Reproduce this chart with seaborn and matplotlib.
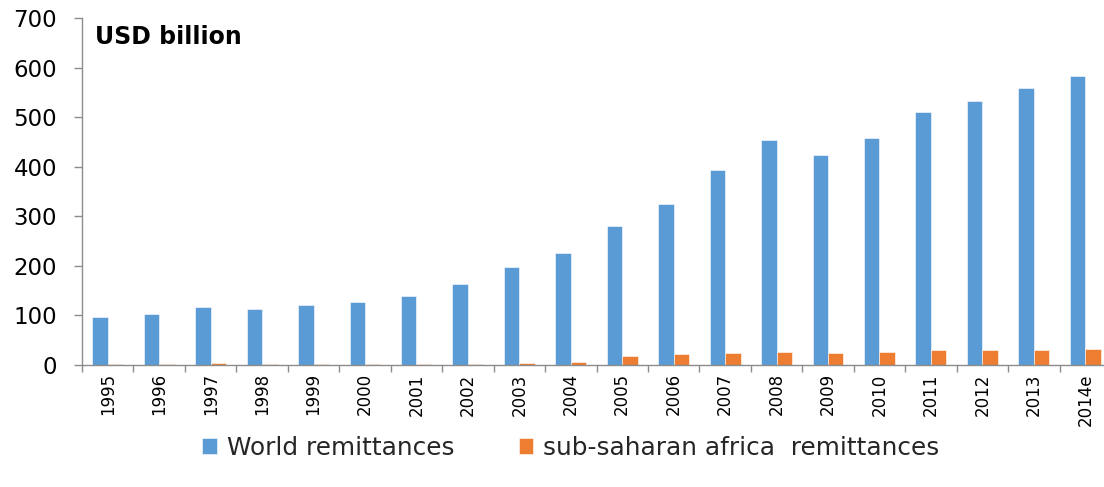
import matplotlib
matplotlib.use("Agg")
import matplotlib.pyplot as plt
import matplotlib.ticker as mticker
import numpy as np
import pandas as pd
import seaborn as sns

years = ["1995", "1996", "1997", "1998", "1999", "2000", "2001", "2002", "2003", "2004",
         "2005", "2006", "2007", "2008", "2009", "2010", "2011", "2012", "2013", "2014e"]
world = [97, 103, 117, 113, 121, 127, 139, 163, 198, 226,
         280, 324, 393, 453, 423, 457, 511, 533, 558, 584]
ssa = [3, 3, 5, 3, 3, 3, 3, 3, 5, 7,
       19, 23, 25, 27, 25, 27, 31, 31, 31, 33]
series_names = ["World remittances", "sub-saharan africa  remittances"]
colors = ["#5B9BD5", "#ED7D31"]

df = pd.DataFrame({
    "year": years * 2,
    "value": world + ssa,
    "series": [series_names[0]] * len(years) + [series_names[1]] * len(years),
})

sns.set_theme(style="white")
plt.rcParams["font.family"] = ["DejaVu Sans"]

fig = plt.figure(figsize=(11.04, 4.87), dpi=100)
ax = fig.add_axes([82 / 1104, 1 - 365 / 487, 1029 / 1104, (365 - 18) / 487])

sns.barplot(data=df, x="year", y="value", hue="series", order=years,
            hue_order=series_names, palette=colors, width=0.6, saturation=1,
            edgecolor="white", linewidth=0.4, ax=ax, legend=True)

ax.set_xlim(-0.5, 19.5)
ax.set_ylim(0, 700)
ax.yaxis.set_major_locator(mticker.MultipleLocator(100))
ax.set_xlabel("")
ax.set_ylabel("")

for s in ["top", "right"]:
    ax.spines[s].set_visible(False)
for s in ["left", "bottom"]:
    ax.spines[s].set_color("#8C8C8C")
    ax.spines[s].set_linewidth(1.0)

ax.tick_params(axis="y", which="major", left=True, length=6, width=1,
               color="#8C8C8C", labelsize=16.5, pad=12, labelcolor="#000000")
ax.tick_params(axis="x", which="major", bottom=False, length=0, labelsize=12,
               labelrotation=90, pad=6, labelcolor="#000000")
ax.xaxis.set_minor_locator(mticker.FixedLocator(np.arange(-0.5, 20, 1)))
ax.tick_params(axis="x", which="minor", bottom=True, length=5, width=1, color="#8C8C8C")

ax.text(95 / 1104, 1 - 37 / 487, "USD billion", transform=fig.transFigure,
        fontsize=17, fontweight="bold", va="center", ha="left", color="#000000")

handles, labels = ax.get_legend_handles_labels()
ax.get_legend().remove()
fig.legend(handles, labels, loc="center", bbox_to_anchor=(0.517, 1 - 448 / 487),
           ncol=2, frameon=False, fontsize=17.8, handlelength=0.6, handleheight=0.6,
           handletextpad=0.4, columnspacing=2.6)

fig.savefig("out.png", dpi=100)
